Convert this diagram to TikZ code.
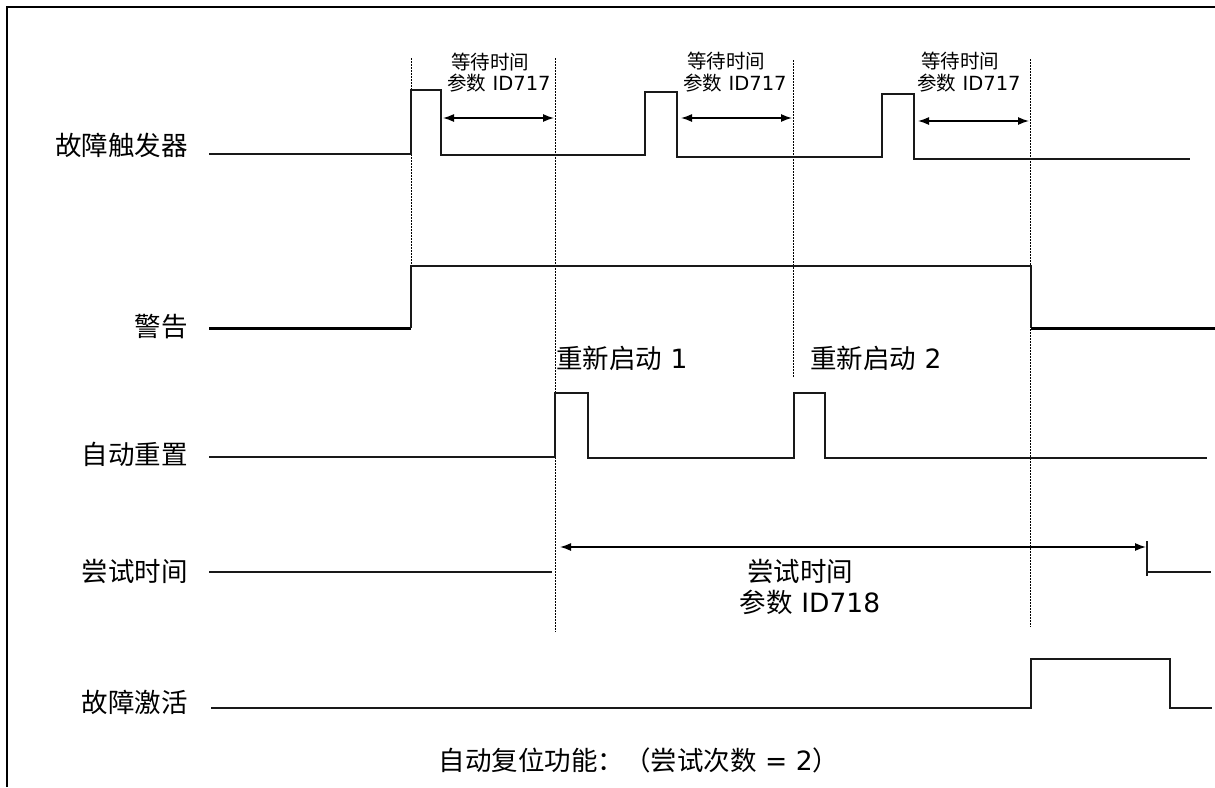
\documentclass[tikz,border=0pt]{standalone}
\usepackage{fontspec}
\setmainfont{DejaVu Sans}
\newfontfamily\cjk{Noto Sans CJK SC}
\usetikzlibrary{arrows.meta}
\begin{document}
\begin{tikzpicture}[x=1pt,y=-1pt,
  sig/.style={line width=1.4pt,draw=black!90,line join=miter},
  sigthick/.style={line width=3pt,draw=black},
  guide/.style={line width=0.8pt,draw=black,dash pattern=on 1.5pt off 1.5pt},
  dim/.style={line width=1.4pt,draw=black,{Latex[length=11pt,width=8pt]}-{Latex[length=11pt,width=8pt]}},
  rowlabel/.style={anchor=east,inner sep=0pt,font=\fontsize{26.5}{26.5}\selectfont\cjk},
  small/.style={inner sep=0pt,font=\fontsize{19.5}{19.5}\selectfont},
  big/.style={inner sep=0pt,font=\fontsize{26.5}{26.5}\selectfont}]
\useasboundingbox (0,0) rectangle (1215,787);
% frame
\draw[line width=1.4pt] (7,787) -- (7,7) -- (1215,7);
% labels
\node[rowlabel] (l1) at (188,145) {故障触发器};
\node[rowlabel] (l2) at (188,327) {警告};
\node[rowlabel] (l3) at (188,454) {自动重置};
\node[rowlabel] (l4) at (188,571) {尝试时间};
\node[rowlabel] (l5) at (188,702) {故障激活};
% guides
\draw[guide] (411,58) -- (411,266);
\draw[guide] (555,58) -- (555,632);
\draw[guide] (793,60) -- (793,378);
\draw[guide] (1030,59) -- (1030,627);
% row 1: fault trigger
\draw[sig] (209,154) -- (411,154) -- (411,90) -- (441,90) -- (441,155) -- (645,155) -- (645,92) -- (677,92) -- (677,157) -- (882,157) -- (882,94) -- (914,94) -- (914,159) -- (1190,159);
\draw[dim] (443,118) -- (554,118);
\draw[dim] (681,118) -- (792,118);
\draw[dim] (918,121) -- (1029,121);
\node[small] (w1a) at (490,62) {\cjk 等待时间};
\node[small] (w1b) at (499,83) {{\cjk 参数} ID717};
\node[small] (w2a) at (726,61) {\cjk 等待时间};
\node[small] (w2b) at (735,83) {{\cjk 参数} ID717};
\node[small] (w3a) at (960,61) {\cjk 等待时间};
\node[small] (w3b) at (969,83) {{\cjk 参数} ID717};
% row 2: warning
\draw[sigthick] (209,328) -- (411,328);
\draw[sig] (411,328) -- (411,266) -- (1031,266) -- (1031,328);
\draw[sigthick] (1031,328) -- (1215,328);
% row 3: auto reset
\draw[sig] (209,457) -- (555,457) -- (555,393) -- (588,393) -- (588,458) -- (794,458) -- (794,393) -- (825,393) -- (825,458) -- (1207,458);
\node[big,anchor=west] (r1) at (556,358) {{\cjk 重新启动} 1};
\node[big,anchor=west] (r2) at (810,358) {{\cjk 重新启动} 2};
% row 4: trial time
\draw[sig] (209,572) -- (552,572);
\draw[dim] (560,547) -- (1146,547);
\draw[sig] (1147,541) -- (1147,576);
\draw[sig] (1147,572) -- (1211,572);
\node[big] (t1) at (800,571) {\cjk 尝试时间};
\node[big] (t2) at (810,602) {{\cjk 参数} ID718};
% row 5: fault active
\draw[sig] (211,708) -- (1031,708) -- (1031,659) -- (1170,659) -- (1170,708) -- (1212,708);
% caption
\node[big] (cap) at (639,760) {{\cjk 自动复位功能：（尝试次数} = 2{\cjk ）}};
\end{tikzpicture}
\end{document}
